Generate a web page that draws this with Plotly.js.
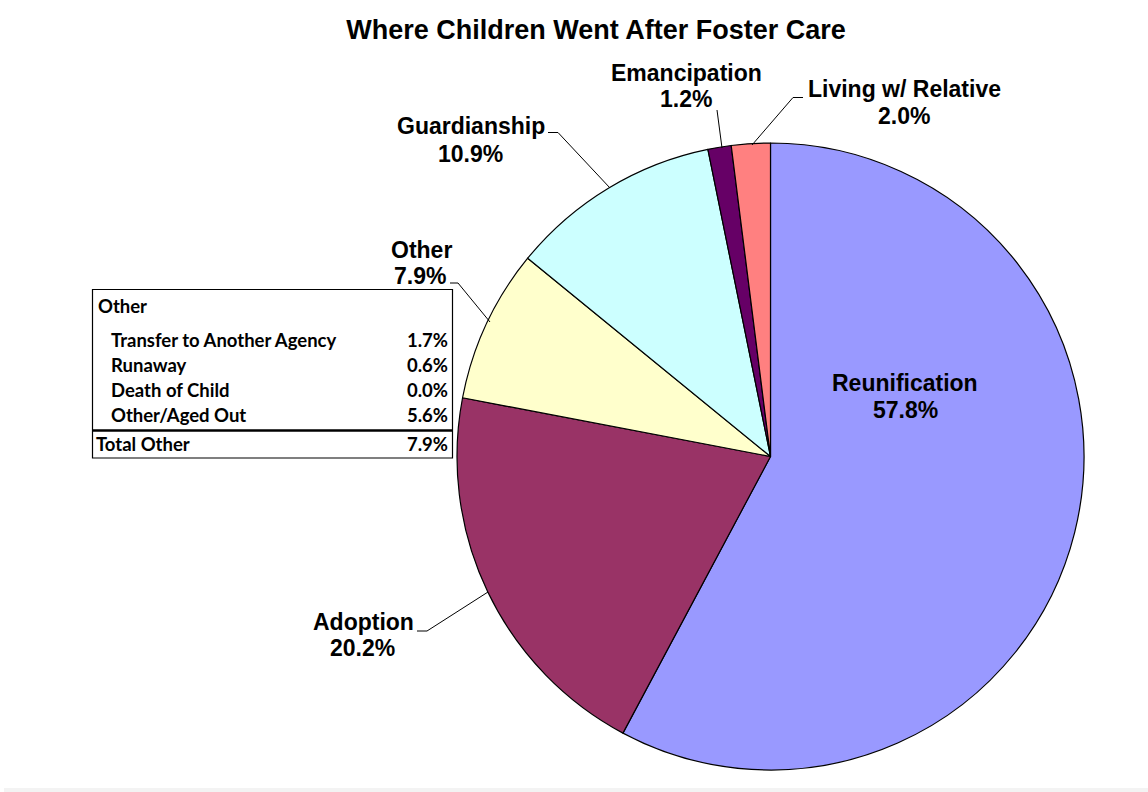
<!DOCTYPE html>
<html>
<head>
<meta charset="utf-8">
<script src="https://cdn.plot.ly/plotly-3.0.1.min.js"></script>
<style>
  html, body { margin: 0; padding: 0; background: #ffffff; }
  #chart { width: 1148px; height: 792px; }
</style>
</head>
<body>
<div id="chart"></div>
<script>
// Exit outcomes for children leaving foster care (percent of all exits)
const categories = ['Reunification', 'Adoption', 'Other', 'Guardianship', 'Emancipation', 'Living w/ Relative'];
const shares = [57.8, 20.2, 7.9, 10.9, 1.2, 2.0];
const sliceColors = ['#9999FF', '#993366', '#FFFFCC', '#CCFFFF', '#660066', '#FF8080'];

// Breakdown of the "Other" slice
const otherItems = ['Transfer to Another Agency', 'Runaway', 'Death of Child', 'Other/Aged Out'];
const otherShares = [1.7, 0.6, 0.0, 5.6];
const otherTotalLabel = 'Total Other';
const otherTotal = 7.9;

const W = 1148, H = 792;
const px = x => x / W;
const py = y => 1 - y / H;
const pct = v => v.toFixed(1) + '%';

// Label placement (pixel centres of name line and value line) and leader polylines
const labelPos = {
  'Reunification':      { name: [905, 383], value: [905, 410], leader: null },
  'Adoption':           { name: [363, 622], value: [362, 648], leader: [[417, 631], [427, 631], [488, 592]] },
  'Other':              { name: [421, 250], value: [420, 276], leader: [[450, 283], [458, 283], [490, 322]] },
  'Guardianship':       { name: [471, 126], value: [470, 154], leader: [[548, 132.5], [558, 132.5], [610, 188]] },
  'Emancipation':       { name: [686, 73],  value: [686, 99],  leader: [[717, 110], [722, 148]] },
  'Living w/ Relative': { name: [904, 89],  value: [904, 116], leader: [[803, 97.5], [793, 97.5], [752, 145]] }
};

const labelFont = { family: 'Liberation Sans, Arial, sans-serif', size: 23, color: '#000000', weight: 700 };
const tableFont = { family: 'Lato, Calibri, sans-serif', size: 18.5, color: '#000000', weight: 700 };

const annotations = [];
const shapes = [];

categories.forEach((c, i) => {
  const p = labelPos[c];
  annotations.push({ xref: 'paper', yref: 'paper', x: px(p.name[0]), y: py(p.name[1]),
    xanchor: 'center', yanchor: 'middle', text: c, showarrow: false, font: labelFont });
  annotations.push({ xref: 'paper', yref: 'paper', x: px(p.value[0]), y: py(p.value[1]),
    xanchor: 'center', yanchor: 'middle', text: pct(shares[i]), showarrow: false, font: labelFont });
  if (p.leader) {
    const path = p.leader.map((pt, k) => (k === 0 ? 'M ' : 'L ') + px(pt[0]) + ' ' + py(pt[1])).join(' ');
    shapes.push({ type: 'path', xref: 'paper', yref: 'paper', path: path,
      line: { color: '#000000', width: 1 } });
  }
});

// Inset table for the "Other" breakdown
const box = { x0: 92.5, x1: 452.5, y0: 289.5, y1: 458 };
shapes.push({ type: 'rect', xref: 'paper', yref: 'paper',
  x0: px(box.x0), x1: px(box.x1), y0: py(box.y1), y1: py(box.y0),
  fillcolor: '#ffffff', line: { color: '#000000', width: 1.2 }, layer: 'above' });
shapes.push({ type: 'line', xref: 'paper', yref: 'paper',
  x0: px(box.x0), x1: px(box.x1), y0: py(430.5), y1: py(430.5),
  line: { color: '#000000', width: 2.5 } });

annotations.push({ xref: 'paper', yref: 'paper', x: px(96), y: py(305.5), xanchor: 'left', yanchor: 'middle',
  text: 'Other', showarrow: false, font: tableFont });
const rowY = [340, 365, 390, 415];
otherItems.forEach((item, i) => {
  annotations.push({ xref: 'paper', yref: 'paper', x: px(109), y: py(rowY[i]), xanchor: 'left', yanchor: 'middle',
    text: item, showarrow: false, font: tableFont });
  annotations.push({ xref: 'paper', yref: 'paper', x: px(450), y: py(rowY[i]), xanchor: 'right', yanchor: 'middle',
    text: pct(otherShares[i]), showarrow: false, font: tableFont });
});
annotations.push({ xref: 'paper', yref: 'paper', x: px(94), y: py(444), xanchor: 'left', yanchor: 'middle',
  text: otherTotalLabel, showarrow: false, font: tableFont });
annotations.push({ xref: 'paper', yref: 'paper', x: px(450), y: py(444), xanchor: 'right', yanchor: 'middle',
  text: pct(otherTotal), showarrow: false, font: tableFont });

// Thin grey strip along the bottom edge
shapes.push({ type: 'rect', xref: 'paper', yref: 'paper', x0: px(4), x1: 1, y0: 0, y1: py(788),
  fillcolor: '#f3f3f3', line: { width: 0 } });

const trace = {
  type: 'pie',
  labels: categories,
  values: shares,
  sort: false,
  direction: 'clockwise',
  rotation: 0,
  textinfo: 'none',
  hoverinfo: 'label+percent',
  marker: { colors: sliceColors, line: { color: '#000000', width: 1.2 } },
  domain: { x: [px(457), px(1084)], y: [py(770), py(143)] },
  showlegend: false
};

const layout = {
  width: W, height: H,
  margin: { l: 0, r: 0, t: 0, b: 0 },
  paper_bgcolor: '#ffffff',
  showlegend: false,
  title: {
    text: 'Where Children Went After Foster Care',
    x: px(596), xanchor: 'center', xref: 'paper',
    y: py(29.5), yanchor: 'middle', yref: 'container',
    font: { family: 'Liberation Sans, Arial, sans-serif', size: 27, color: '#000000', weight: 700 }
  },
  annotations: annotations,
  shapes: shapes
};

Plotly.newPlot('chart', [trace], layout, { displayModeBar: false, staticPlot: true });
</script>
</body>
</html>
